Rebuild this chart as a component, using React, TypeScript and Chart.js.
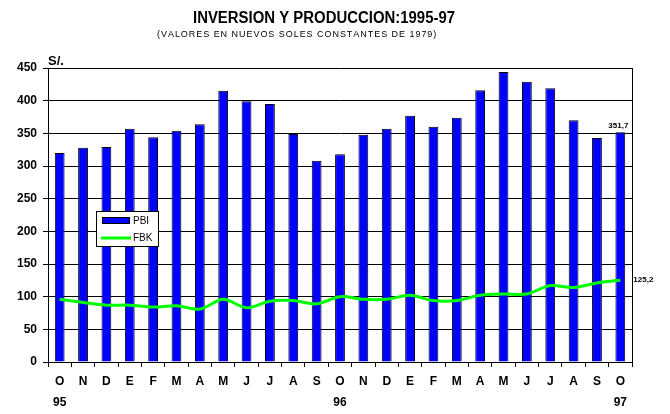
import React, { useEffect, useRef } from "react";
import { Chart, registerables } from "chart.js";

Chart.register(...registerables);

const months = ["O","N","D","E","F","M","A","M","J","J","A","S","O","N","D","E","F","M","A","M","J","J","A","S","O"];
const years = ["95","","","","","","","","","","","","96","","","","","","","","","","","","97"];
const pbi = [320,328,329,357,344,354,364,415,399,395,349,308,318,348,357,377,360,374,416,444,429,419,370,343,351.7];
const fbk = [96,91,87,87,84,86,81,96,83,93,94,89,100,96,96,102,94,94,102,104,104,117,114,121,125.2];
const yTicks = [0,50,100,150,200,250,300,350,400,450];

const title = "INVERSION Y PRODUCCION:1995-97";
const subtitle = "(VALORES EN NUEVOS SOLES CONSTANTES DE 1979)";
const unitLabel = "S/.";
const legendLabels = ["PBI", "FBK"];

const BLUE = "#0000ff";
const GREEN = "#00ff00";
const FONT = "'Liberation Sans Narrow', 'Arial Narrow', 'Liberation Sans', Arial, sans-serif";
const FONT_REG = "'Liberation Sans', Arial, sans-serif";

const fmt = (v: number) => String(v).replace(".", ",");

const decor = {
  id: "decor",
  afterDraw(chart: any) {
    const ctx = chart.ctx as CanvasRenderingContext2D;
    const a = chart.chartArea;
    ctx.save();
    // right border
    ctx.strokeStyle = "#000";
    ctx.lineWidth = 1;
    ctx.beginPath();
    ctx.moveTo(Math.round(a.right) + 0.5, a.top);
    ctx.lineTo(Math.round(a.right) + 0.5, a.bottom);
    ctx.stroke();

    // title
    ctx.fillStyle = "#000";
    ctx.textBaseline = "middle";
    ctx.textAlign = "center";
    ctx.font = `bold 16px ${FONT_REG}`;
    ctx.fillText(title, 324, 19, 262);

    // subtitle with letter spacing
    ctx.font = `9px ${FONT_REG}`;
    ctx.textAlign = "left";
    const target = 278;
    const chars = subtitle.split("");
    const w = ctx.measureText(subtitle).width;
    const extra = (target - w) / (chars.length - 1);
    let x = 157;
    for (const c of chars) {
      ctx.fillText(c, x, 35);
      x += ctx.measureText(c).width + extra;
    }

    // unit label
    ctx.font = `bold 13px ${FONT}`;
    ctx.textAlign = "left";
    ctx.fillText(unitLabel, a.left, 61);

    // value labels
    const barMeta = chart.getDatasetMeta(0);
    const lineMeta = chart.getDatasetMeta(1);
    const lb = barMeta.data[barMeta.data.length - 1];
    const ll = lineMeta.data[lineMeta.data.length - 1];
    ctx.font = `bold 8px ${FONT_REG}`;
    ctx.textAlign = "center";
    ctx.textBaseline = "bottom";
    ctx.fillText(fmt(pbi[pbi.length - 1]), lb.x - 2, lb.y - 2);
    ctx.textAlign = "left";
    ctx.textBaseline = "middle";
    ctx.fillText(fmt(fbk[fbk.length - 1]), ll.x + 13, ll.y);

    // legend box
    const bx = 96.5, by = 211.5, bw = 62, bh = 35;
    ctx.fillStyle = "#fff";
    ctx.fillRect(bx, by, bw, bh);
    ctx.strokeStyle = "#000";
    ctx.strokeRect(bx, by, bw, bh);
    ctx.fillStyle = BLUE;
    ctx.fillRect(102.5, 217.5, 27, 6);
    ctx.strokeRect(102.5, 217.5, 27, 6);
    ctx.strokeStyle = GREEN;
    ctx.lineWidth = 3;
    ctx.beginPath();
    ctx.moveTo(101, 238);
    ctx.lineTo(131, 238);
    ctx.stroke();
    ctx.fillStyle = "#000";
    ctx.font = `10px ${FONT_REG}`;
    ctx.textAlign = "left";
    ctx.textBaseline = "middle";
    ctx.fillText(legendLabels[0], 133, 221);
    ctx.fillText(legendLabels[1], 133, 238);
    ctx.restore();
  },
};

export default function App() {
  const ref = useRef<HTMLCanvasElement>(null);
  useEffect(() => {
    if (!ref.current) return;
    const chart = new Chart(ref.current, {
      type: "bar",
      data: {
        labels: months.map((m, i) => [m, years[i]]),
        datasets: [
          {
            type: "bar",
            label: legendLabels[0],
            data: pbi,
            backgroundColor: BLUE,
            borderColor: "#000",
            borderWidth: 1,
            barPercentage: 0.42,
            categoryPercentage: 1,
            order: 1,
          },
          {
            type: "line",
            label: legendLabels[1],
            data: fbk,
            borderColor: GREEN,
            borderWidth: 3,
            pointRadius: 0,
            tension: 0.3,
            fill: false,
            order: 0,
          },
        ] as any,
      },
      options: {
        animation: false,
        responsive: false,
        layout: { padding: { top: 68, right: 38, left: 0, bottom: 0 } },
        plugins: { legend: { display: false }, tooltip: { enabled: false }, title: { display: false } },
        scales: {
          x: {
            afterFit: (s: any) => { s.height = 52; },
            grid: { display: true, drawOnChartArea: false, drawTicks: true, tickLength: 5, color: "#000", offset: true },
            border: { display: true, color: "#000", width: 1 },
            ticks: {
              color: "#000",
              font: { family: FONT, size: 12, weight: "bold", lineHeight: 1.75 },
              padding: 4,
              maxRotation: 0,
              autoSkip: false,
            },
          },
          y: {
            min: 0,
            max: 450,
            afterFit: (s: any) => { s.width = 48; },
            afterBuildTicks: (s: any) => { s.ticks = yTicks.map((v) => ({ value: v })); },
            grid: { color: "#000", lineWidth: 1, drawTicks: true, tickLength: 5 },
            border: { display: true, color: "#000", width: 1 },
            ticks: {
              color: "#000",
              font: { family: FONT, size: 12, weight: "bold" },
              padding: 6,
            },
          },
        },
      } as any,
      plugins: [decor],
    });
    return () => chart.destroy();
  }, []);
  return (
    <div style={{ position: "absolute", left: 0, top: 0, width: 670, height: 414, background: "#fff" }}>
      <canvas ref={ref} width={670} height={414} style={{ width: 670, height: 414, display: "block" }} />
    </div>
  );
}
